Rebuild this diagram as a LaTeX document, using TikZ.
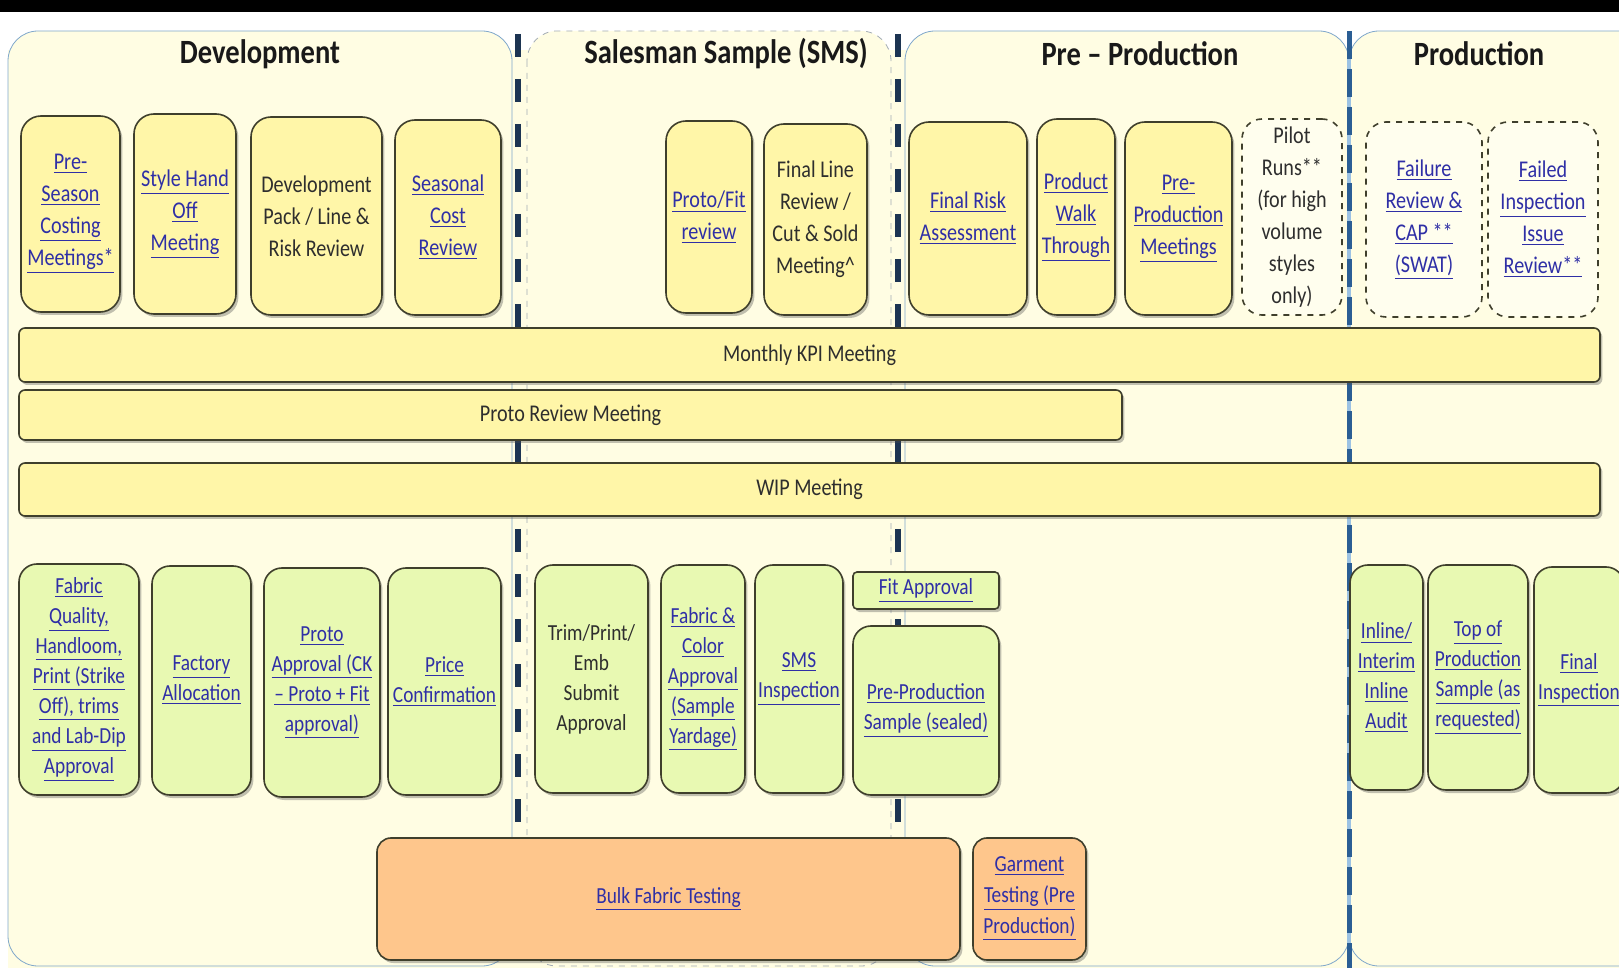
\documentclass[tikz,border=0pt]{standalone}
\usepackage{fontspec}
\setmainfont{Carlito}[FakeStretch=0.84]
\usetikzlibrary{shadows}
\definecolor{cream}{HTML}{FFFDE3}
\definecolor{boxyellow}{HTML}{FFF6A8}
\definecolor{boxgreen}{HTML}{E8F9B2}
\definecolor{boxorange}{HTML}{FEC68C}
\definecolor{edge}{HTML}{3F3F2C}
\definecolor{linkblue}{HTML}{2F2FA6}
\definecolor{plaintext}{HTML}{2E2E2E}
\definecolor{navy}{HTML}{1C3452}
\definecolor{paneledge}{HTML}{7FA7CB}
\definecolor{smsedge}{HTML}{A3ACB5}
\definecolor{prodline}{HTML}{2B5E94}
\definecolor{prodlight}{HTML}{9CC2E3}
\newcommand{\lk}[1]{\underline{#1}}
\begin{document}
\begin{tikzpicture}[x=0.5pt, y=-0.5pt,
    area/.style args={#1,#2,#3,#4}{at={({(#1+#3)/2},{(#2+#4)/2})},
        minimum width={(#3-#1)*0.5pt}, minimum height={(#4-#2)*0.5pt}},
    box/.style={draw=edge, line width=0.8pt, inner sep=0pt, align=center},
    sbox/.style={box, drop shadow={shadow xshift=1.2pt, shadow yshift=-1.5pt, opacity=0.35, fill=black!70}},
    ybox/.style={sbox, fill=boxyellow, rounded corners=10pt, font=\fontsize{12}{16}\selectfont},
    dbox/.style={box, fill=cream!60!white, dashed, rounded corners=10pt, font=\fontsize{12}{16}\selectfont},
    bar/.style={sbox, fill=boxyellow, rounded corners=3pt, font=\fontsize{12}{16}\selectfont, text=plaintext},
    gbox/.style={sbox, fill=boxgreen, rounded corners=9pt, font=\fontsize{11.5}{15}\selectfont},
    obox/.style={sbox, fill=boxorange, rounded corners=7pt, font=\fontsize{11.5}{15.5}\selectfont},
    link/.style={text=linkblue},
    plain/.style={text=plaintext},
    heading/.style={font=\bfseries\fontsize{17}{20}\selectfont, text=black!90},
  ]
  \useasboundingbox (0,0) rectangle (1619,968);
  \fill[black] (0,0) rectangle (1619,12);
  \fill[cream] (8,50) rectangle (1619,968);

  % phase panels
  \draw[paneledge, fill=cream, rounded corners=15pt] (8,31) rectangle (512,966);
  \draw[smsedge, dashed, fill=cream, rounded corners=15pt] (527,31) rectangle (891,966);
  \draw[paneledge, fill=cream, rounded corners=15pt] (905,31) rectangle (1349,966);
  \draw[paneledge, fill=cream, rounded corners=15pt] (1349,31) rectangle (1660,966);

  % phase dividers
  \draw[navy, line width=2.6pt, dash pattern=on 11.5pt off 11pt] (518,34) -- (518,968);
  \draw[navy, line width=2.6pt, dash pattern=on 11.5pt off 11pt] (898,34) -- (898,968);
  \draw[prodlight, line width=2pt] (1349,31) -- (1349,968);
  \draw[prodline, line width=2.5pt, dash pattern=on 14pt off 5pt] (1349,31) -- (1349,968);

  \node[heading] (devhead) at (260,54) {Development};
  \node[heading] (smshead) at (726,54) {Salesman Sample (SMS)};
  \node[heading] (pphead) at (1140,54) {Pre – Production};
  \node[heading] (prodhead) at (1479,54) {Production};

  % top row
  \node[ybox, link, area={21,116,120,312}] (preseason) {\lk{Pre-}\\\lk{Season}\\\lk{Costing}\\\lk{Meetings*}};
  \node[ybox, link, area={134,114,236,314}] (handoff) {\lk{Style Hand}\\\lk{Off}\\\lk{Meeting}};
  \node[ybox, plain, area={251,117,382,315}] (devpack) {Development\\Pack / Line \&\\Risk Review};
  \node[ybox, link, area={395,120,501,315}] (seasonal) {\lk{Seasonal}\\\lk{Cost}\\\lk{Review}};
  \node[ybox, link, area={666,121,752,313}] (protofit) {\lk{Proto/Fit}\\\lk{review}};
  \node[ybox, plain, area={764,124,867,315}] (finalline) {Final Line\\Review /\\Cut \& Sold\\Meeting\textasciicircum};
  \node[ybox, link, area={909,122,1027,315}] (finalrisk) {\lk{Final Risk}\\\lk{Assessment}};
  \node[ybox, link, area={1037,119,1115,315}] (walk) {\lk{Product}\\\lk{Walk}\\\lk{Through}};
  \node[ybox, link, area={1125,122,1232,315}] (ppmeet) {\lk{Pre-}\\\lk{Production}\\\lk{Meetings}};
  \node[dbox, plain, area={1242,119,1342,315}] (pilot) {Pilot\\Runs**\\(for high\\volume\\styles\\only)};
  \node[dbox, link, area={1366,122,1482,317}] (failure) {\lk{Failure}\\\lk{Review \&}\\\lk{CAP **}\\\lk{(SWAT)}};
  \node[dbox, link, area={1488,122,1598,317}] (failed) {\lk{Failed}\\\lk{Inspection}\\\lk{Issue}\\\lk{Review**}};

  % meeting bars
  \node[bar, area={19,328,1600,382}] (kpi) {Monthly KPI Meeting};
  \node[bar, area={19,390,1122,440}] (protoreview) {Proto Review Meeting};
  \node[bar, area={19,463,1600,516}] (wip) {WIP Meeting};

  % approvals
  \node[gbox, link, area={19,564,139,795}] (fabricq) {\lk{Fabric}\\\lk{Quality,}\\\lk{Handloom,}\\\lk{Print (Strike}\\\lk{Off), trims}\\\lk{and Lab-Dip}\\\lk{Approval}};
  \node[gbox, link, area={152,566,251,795}] (factory) {\lk{Factory}\\\lk{Allocation}};
  \node[gbox, link, area={264,568,380,797}] (protoapp) {\lk{Proto}\\\lk{Approval (CK}\\\lk{– Proto + Fit}\\\lk{approval)}};
  \node[gbox, link, area={388,568,501,795}] (price) {\lk{Price}\\\lk{Confirmation}};
  \node[gbox, plain, area={535,565,648,793}] (trim) {Trim/Print/\\Emb\\Submit\\Approval};
  \node[gbox, link, area={661,565,745,793}] (fabcolor) {\lk{Fabric \&}\\\lk{Color}\\\lk{Approval}\\\lk{(Sample}\\\lk{Yardage)}};
  \node[gbox, link, area={755,565,843,793}] (smsinsp) {\lk{SMS}\\\lk{Inspection}};
  \node[gbox, link, rounded corners=2pt, area={853,572,999,609}] (fitapp) {\lk{Fit Approval}};
  \node[gbox, link, area={853,626,999,795}] (ppsample) {\lk{Pre-Production}\\\lk{Sample (sealed)}};
  \node[gbox, link, area={1350,565,1423,790}] (inline) {\lk{Inline/}\\\lk{Interim}\\\lk{Inline}\\\lk{Audit}};
  \node[gbox, link, area={1428,565,1528,790}] (topprod) {\lk{Top of}\\\lk{Production}\\\lk{Sample (as}\\\lk{requested)}};
  \node[gbox, link, area={1534,567,1624,793}] (finalinsp) {\lk{Final}\\\lk{Inspection}};

  % testing
  \node[obox, link, area={377,838,960,960}] (bulk) {\lk{Bulk Fabric Testing}};
  \node[obox, link, area={973,838,1086,960}] (garment) {\lk{Garment}\\\lk{Testing (Pre}\\\lk{Production)}};
\end{tikzpicture}
\end{document}
